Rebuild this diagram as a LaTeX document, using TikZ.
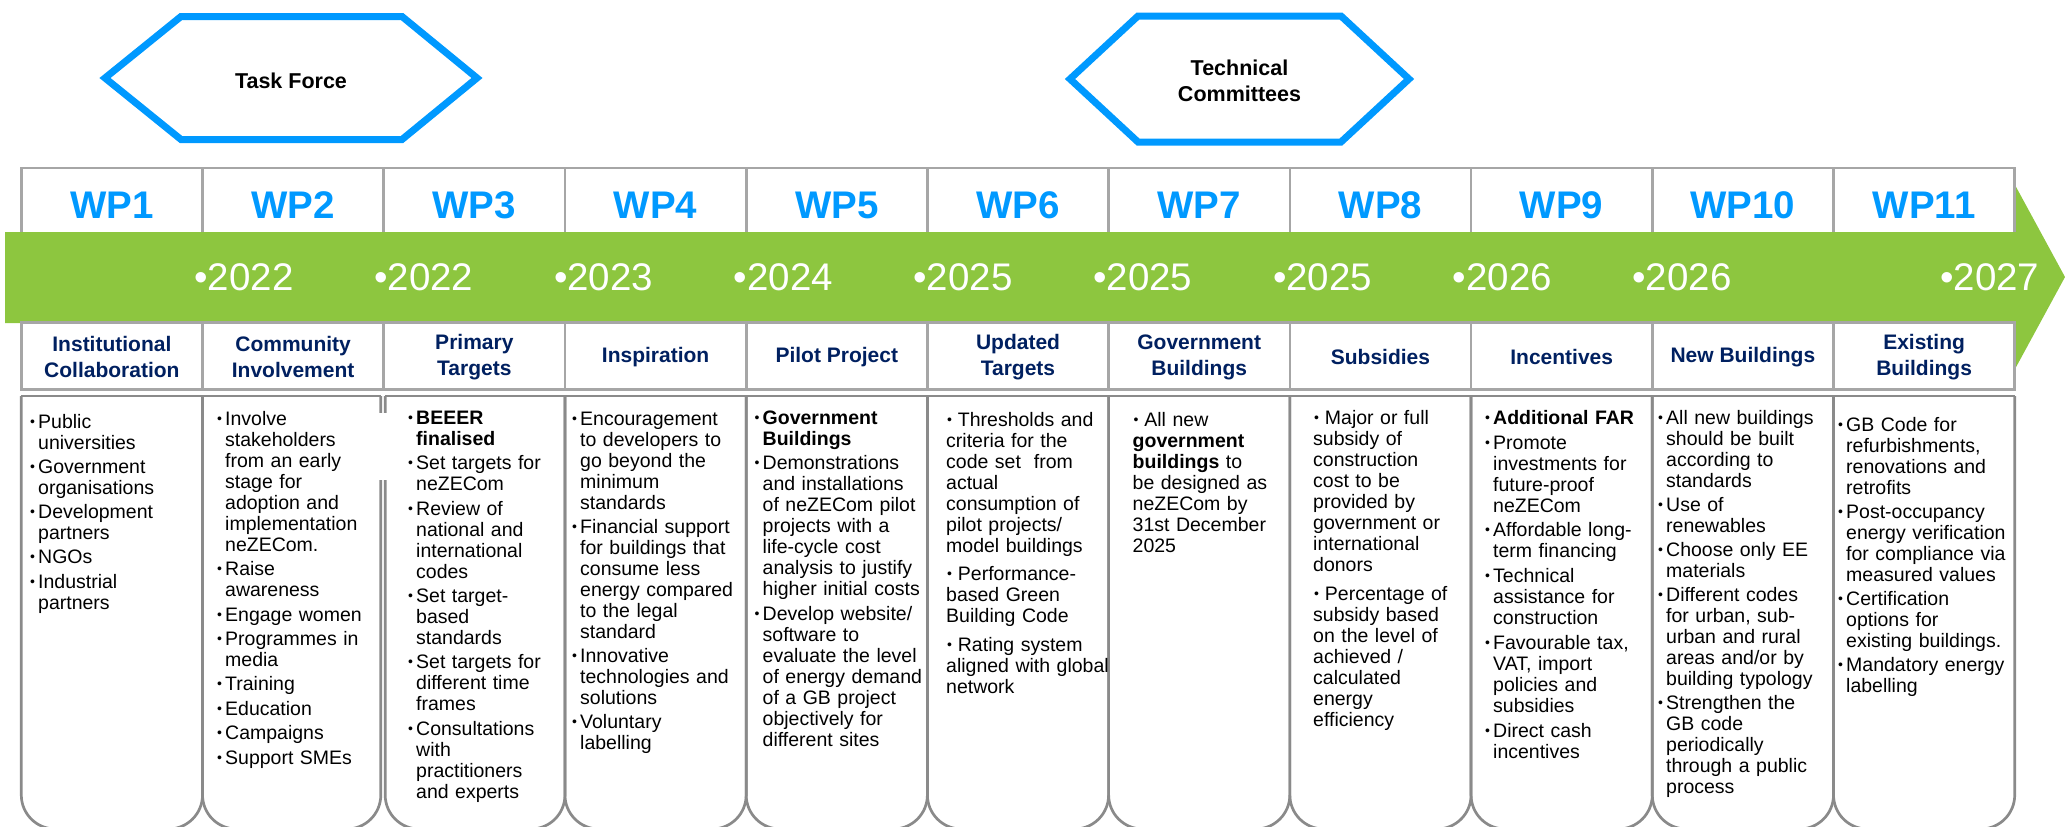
\documentclass[tikz,border=0pt]{standalone}
\usepackage{fontspec}
\setmainfont{Liberation Sans}

\definecolor{wpblue}{RGB}{0,153,255}
\definecolor{bandgreen}{RGB}{141,198,63}
\definecolor{navy}{RGB}{0,32,96}
\definecolor{hdrgray}{RGB}{166,166,166}
\definecolor{boxgray}{RGB}{138,138,138}

% bullet lists inside the column boxes
\newlength\bhang \setlength\bhang{8.5pt}
\newlength\bgap  \setlength\bgap{3.4pt}
\newcommand\bdot{\raisebox{2pt}{\fontsize{14}{14}\selectfont•}}
% hanging bullet item
\newcommand\bi[1]{{\let\\\newline\noindent\hangindent=\bhang\hangafter=1\relax
  \makebox[\bhang][l]{\strut\hspace{0.3pt}\bdot}#1\par}\vspace{\bgap}}
% inline bullet item, wrapped lines flush left
\newcommand\bl[1]{{\let\\\newline\noindent\strut\hspace{1pt}\bdot\hspace{5.8pt}#1\par}\vspace{\bgap}}

\tikzset{
  hexline/.style={draw=wpblue, line width=7pt, line join=miter},
  hexlabel/.style={font=\fontsize{21.5}{26}\selectfont\bfseries, align=center, inner sep=0pt},
  hdrbox/.style={fill=white, draw=hdrgray, line width=2.7pt},
  cbox/.style={draw=boxgray, line width=2.7pt},
  wp/.style={font=\fontsize{38.5}{40}\selectfont\bfseries, text=wpblue, anchor=base, inner sep=0pt},
  yr/.style={font=\fontsize{38.5}{40}\selectfont, text=white, anchor=base west, inner sep=0pt},
  ttl/.style={font=\fontsize{21}{26}\selectfont\bfseries, text=navy, align=center, inner sep=0pt},
  body/.style={anchor=north west, inner sep=0pt, text width=200pt, align=left,
    font=\fontsize{19.5}{21}\selectfont}
}

\begin{document}
\begin{tikzpicture}[x=1pt,y=-1pt]
\useasboundingbox (0,0) rectangle (2065,827);
\clip (0,0) rectangle (2065,827);

% committee hexagons
\draw[hexline] (105,78) -- (181,16.5) -- (402,16.5) -- (477,78) -- (402,139.5) -- (181,139.5) -- cycle;
\node[hexlabel, anchor=base] (tf) at (291,88) {Task Force};
\draw[hexline] (1070,79) -- (1138,16) -- (1341,16) -- (1409,79) -- (1341,142) -- (1138,142) -- cycle;
\node[hexlabel] (tc) at (1239.5,80.5) {Technical\\Committees};

% timeline arrow
\fill[bandgreen] (5,232) -- (2015,232) -- (2015,185) -- (2065,277) -- (2015,369)
  -- (2015,323) -- (5,323) -- cycle;

% header and title cells
\foreach \n in {0,...,10} {
  \pgfmathsetmacro\L{21.3+181.22*\n}
  \pgfmathsetmacro\R{21.3+181.22*(\n+1)}
  \filldraw[hdrbox] (\L,232) -- (\L,168) -- (\R,168) -- (\R,232);
  \filldraw[hdrbox] (\L,322.5) rectangle (\R,389.5);
}

% content columns with rounded feet
\foreach \L/\R in {21.3/202.52, 202.52/380.8, 385.2/564.96, 564.96/746.18,
    746.18/927.4, 927.4/1108.62, 1108.62/1289.84, 1289.84/1471.06,
    1471.06/1652.28, 1652.28/1833.5, 1833.5/2014.72} {
  \draw[cbox, rounded corners=34pt] (\L,396) -- (\L,829) -- (\R,829) -- (\R,396);
  \draw[cbox] (\L,396) -- (\R,396);
}
\fill[white] (377,413) rectangle (389,480);

% work package labels
\foreach \n in {1,...,11} {
  \pgfmathsetmacro\cx{21.3+181.22*(\n-0.5)}
  \node[wp] (wp\n) at (\cx,218) {WP\n};
}

% years on the arrow
\foreach \n/\yy in {0/2022,1/2022,2/2023,3/2024,4/2025,5/2025,6/2025,7/2026,8/2026} {
  \pgfmathsetmacro\yx{194.3+179.75*\n}
  \node[yr] (yr\n) at (\yx,290) {•\yy};
}
\node[yr] (yr9) at (1940,290) {•2027};

% column titles
\node[ttl] (t1)  at (111.9,357)  {Institutional\\Collaboration};
\node[ttl] (t2)  at (293.1,357)  {Community\\Involvement};
\node[ttl] (t3)  at (474.35,357) {Primary\\Targets};
\node[ttl] (t4)  at (655.6,357)  {Inspiration};
\node[ttl] (t5)  at (836.8,357)  {Pilot Project};
\node[ttl] (t6)  at (1018.0,357) {Updated\\Targets};
\node[ttl] (t7)  at (1199.2,357) {Government\\Buildings};
\node[ttl] (t8)  at (1380.45,357) {Subsidies};
\node[ttl] (t9)  at (1561.7,357) {Incentives};
\node[ttl] (t10) at (1742.9,357) {New Buildings};
\node[ttl] (t11) at (1924.1,357) {Existing\\Buildings};

% column contents
\node[body] (c1) at (29.5,413.3) {\setlength\bgap{3.25pt}%
  \bi{Public\\universities}
  \bi{Government\\organisations}
  \bi{Development\\partners}
  \bi{NGOs}
  \bi{Industrial\\partners}};

\node[body] (c2) at (216.5,410.3) {%
  \bi{Involve\\stakeholders\\from an early\\stage for\\adoption and\\implementation\\neZECom.}
  \bi{Raise\\awareness}
  \bi{Engage women}
  \bi{Programmes in\\media}
  \bi{Training}
  \bi{Education}
  \bi{Campaigns}
  \bi{Support SMEs}};

\node[body] (c3) at (407.5,409.3) {%
  \bi{\bfseries BEEER\\finalised}
  \bi{Set targets for\\neZECom}
  \bi{Review of\\national and\\international\\codes}
  \bi{Set target-\\based\\standards}
  \bi{Set targets for\\different time\\frames}
  \bi{Consultations\\with\\practitioners\\and experts}};

\node[body] (c4) at (571.5,410.3) {\setlength\bgap{3pt}%
  \bi{Encouragement\\to developers to\\go beyond the\\minimum\\standards}
  \bi{Financial support\\for buildings that\\consume less\\energy compared\\to the legal\\standard}
  \bi{Innovative\\technologies and\\solutions}
  \bi{Voluntary\\labelling}};

\node[body] (c5) at (754,409.3) {%
  \bi{\bfseries Government\\Buildings}
  \bi{Demonstrations\\and installations\\of neZECom pilot\\projects with a\\life-cycle cost\\analysis to justify\\higher initial costs}
  \bi{Develop website/\\software to\\evaluate the level\\of energy demand\\of a GB project\\objectively for\\different sites}};

\node[body] (c6) at (946,411.3) {\setlength\bgap{7.5pt}%
  \bl{Thresholds and\\criteria for the\\code set \ from\\actual\\consumption of\\pilot projects/\\model buildings}
  \bl{Performance-\\based Green\\Building Code}
  \bl{Rating system\\aligned with global\\network}};

\node[body] (c7) at (1132.5,411.3) {%
  \bl{All new\\\textbf{government}\\\textbf{buildings} to\\be designed as\\neZECom by\\31st December\\2025}};

\node[body] (c8) at (1313,409.3) {\setlength\bgap{8.5pt}%
  \bl{Major or full\\subsidy of\\construction\\cost to be\\provided by\\government or\\international\\donors}
  \bl{Percentage of\\subsidy based\\on the level of\\achieved /\\calculated\\energy\\efficiency}};

\node[body] (c9) at (1484.5,409.3) {\setlength\bgap{3.8pt}%
  \bi{\bfseries Additional FAR}
  \bi{Promote\\investments for\\future-proof\\neZECom}
  \bi{Affordable long-\\term financing}
  \bi{Technical\\assistance for\\construction}
  \bi{Favourable tax,\\VAT, import\\policies and\\subsidies}
  \bi{Direct cash\\incentives}};

\node[body] (c10) at (1657.5,409.3) {\setlength\bgap{3pt}%
  \bi{All new buildings\\should be built\\according to\\standards}
  \bi{Use of\\renewables}
  \bi{Choose only EE\\materials}
  \bi{Different codes\\for urban, sub-\\urban and rural\\areas and/or by\\building typology}
  \bi{Strengthen the\\GB code\\periodically\\through a public\\process}};

\node[body] (c11) at (1837.5,416.3) {\setlength\bgap{3pt}%
  \bi{GB Code for\\refurbishments,\\renovations and\\retrofits}
  \bi{Post-occupancy\\energy verification\\for compliance via\\measured values}
  \bi{Certification\\options for\\existing buildings.}
  \bi{Mandatory energy\\labelling}};

\end{tikzpicture}
\end{document}
